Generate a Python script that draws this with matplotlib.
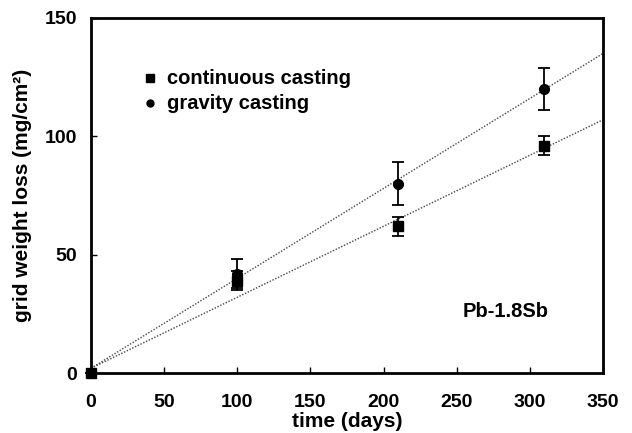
import matplotlib
matplotlib.use("Agg")
import matplotlib.pyplot as plt
import numpy as np

plt.rcParams['font.family'] = ['Liberation Sans', 'DejaVu Sans']
plt.rcParams['font.weight'] = 'bold'
plt.rcParams['axes.labelweight'] = 'bold'

# data
days = [0, 100, 210, 310]
continuous = [0, 39, 62, 96]
continuous_err = [0, 4, 4, 4]
gravity = [0, 42, 80, 120]
gravity_err = [0, 6, 9, 9]

# linear fits (intercept, slope)
continuous_fit = (2.0, 0.30)
gravity_fit = (2.0, 0.38)

fig = plt.figure(figsize=(6.32, 4.33), dpi=100)
ax = fig.add_axes([91 / 632, 1 - 373 / 433, (603 - 91) / 632, (373 - 18) / 433])

xf = np.array([0, 350])
ax.plot(xf, continuous_fit[0] + continuous_fit[1] * xf, ls=(0, (1, 1.2)), color='#444444', lw=1)
ax.plot(xf, gravity_fit[0] + gravity_fit[1] * xf, ls=(0, (1, 1.2)), color='#444444', lw=1)

ax.errorbar(days, continuous, yerr=continuous_err, fmt='s', color='black', ms=7,
            capsize=4, elinewidth=1.3, capthick=1.3, clip_on=False, zorder=5)
ax.errorbar(days, gravity, yerr=gravity_err, fmt='o', color='black', ms=7,
            capsize=4, elinewidth=1.3, capthick=1.3, clip_on=False, zorder=5)

# legend drawn as in the original
ax.plot([40], [124.5], 's', color='black', ms=6)
ax.text(52, 124.5, 'continuous casting', fontsize=14.5, va='center')
ax.plot([40], [114], 'o', color='black', ms=5)
ax.text(52, 114, 'gravity casting', fontsize=14.5, va='center')

ax.text(254, 26, 'Pb-1.8Sb', fontsize=14.5, va='center')

ax.set_xlim(0, 350)
ax.set_ylim(0, 150)
ax.set_xticks([0, 50, 100, 150, 200, 250, 300, 350])
ax.set_yticks([0, 50, 100, 150])
ax.tick_params(direction='in', length=4, width=1, labelsize=14)
ax.tick_params(axis='x', pad=15)
ax.tick_params(axis='y', pad=10)
for s in ax.spines.values():
    s.set_linewidth(2)

ax.set_xlabel('time (days)', fontsize=15, labelpad=1)
ax.set_ylabel('grid weight loss (mg/cm²)', fontsize=15, labelpad=9)

fig.savefig('out.png', dpi=100)
